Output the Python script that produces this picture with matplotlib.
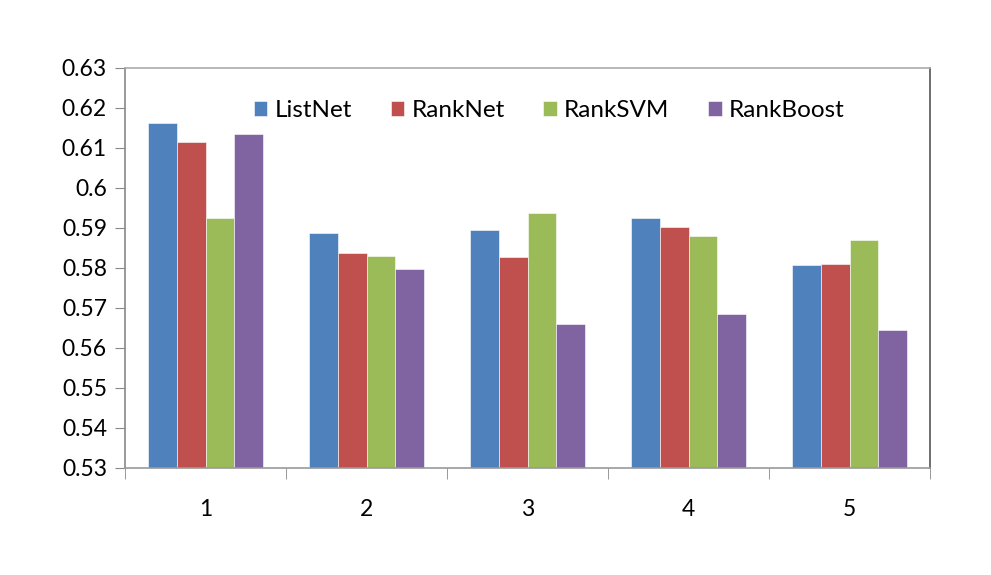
import numpy as np
import matplotlib.pyplot as plt

plt.rcParams['font.family'] = ['Lato', 'DejaVu Sans']

groups = ['1', '2', '3', '4', '5']
series = ['ListNet', 'RankNet', 'RankSVM', 'RankBoost']
listnet = [0.6162, 0.5887, 0.5895, 0.5925, 0.5807]
ranknet = [0.6115, 0.5838, 0.5828, 0.5903, 0.5810]
ranksvm = [0.5926, 0.5829, 0.5938, 0.5880, 0.5869]
rankboost = [0.6134, 0.5797, 0.5659, 0.5684, 0.5644]
colors = ['#4F81BD', '#C0504D', '#9BBB59', '#8064A2']

values = [listnet, ranknet, ranksvm, rankboost]

fig = plt.figure(figsize=(9.91, 5.75), dpi=100)
ax = fig.add_axes([125 / 991, (575 - 468) / 575, 805 / 991, 400 / 575])

x = np.arange(1, len(groups) + 1)
w = 0.18
for i, (name, vals) in enumerate(zip(series, values)):
    ax.bar(x + (i - 1.5) * w, vals, width=w, color=colors[i], label=name,
           edgecolor='white', linewidth=0.4)

ax.set_ylim(0.53, 0.63)
ax.set_xlim(0.5, 5.5)
ax.set_yticks(np.arange(0.53, 0.6301, 0.01))
ax.set_yticklabels(['0.53', '0.54', '0.55', '0.56', '0.57', '0.58', '0.59',
                    '0.6', '0.61', '0.62', '0.63'])
ax.set_xticks(x)
ax.set_xticklabels(groups)
ax.set_xticks(np.arange(0.5, 5.6, 1), minor=True)
ax.tick_params(axis='x', which='major', length=0, pad=22, labelsize=16.5)
ax.tick_params(axis='x', which='minor', length=8, color='#888888', direction='out')
ax.tick_params(axis='y', length=7, color='#888888', labelsize=16.5, pad=6)

ax.spines['left'].set_color('#888888')
ax.spines['bottom'].set_color('#999999')
ax.spines['top'].set_color('#aaaaaa')
ax.spines['right'].set_color('#555555')
for s in ax.spines.values():
    s.set_linewidth(1.2)

ax.legend(loc='upper center', bbox_to_anchor=(0.527, 0.975), ncol=4, frameon=False,
          fontsize=17.5, handlelength=0.55, handleheight=0.55, handletextpad=0.3,
          columnspacing=1.6)

fig.savefig('out.png', dpi=100)
